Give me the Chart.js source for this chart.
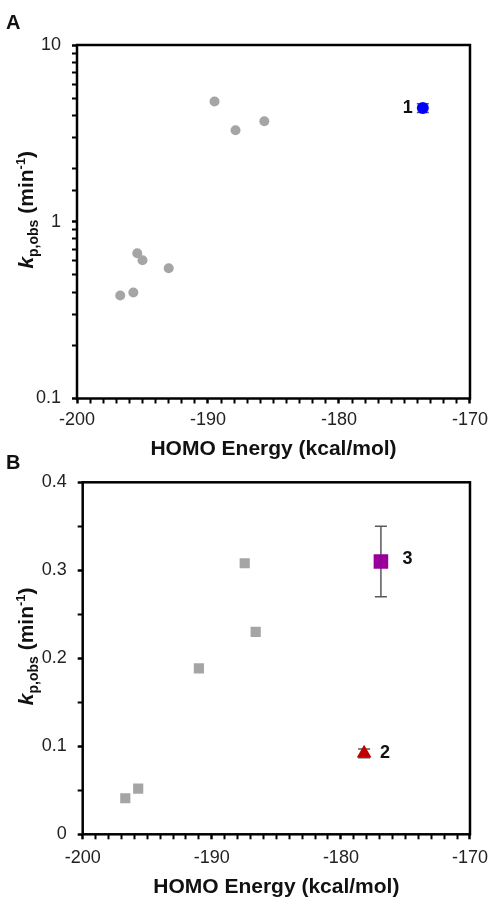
<!DOCTYPE html>
<html>
<head>
<meta charset="utf-8">
<script src="https://cdn.jsdelivr.net/npm/chart.js@4/dist/chart.umd.min.js"></script>
<style>
  body{margin:0;background:#fff;}
  #wrap{position:relative;width:491px;height:899px;}
  canvas{position:absolute;left:0;}
</style>
</head>
<body>
<div id="wrap">
  <canvas id="chartA" width="491" height="470" style="top:0"></canvas>
  <canvas id="chartB" width="491" height="459" style="top:440px"></canvas>
</div>
<script>
// ==========================
// DATA
// ==========================
// panel A (log scale)
const energyA = [-196.7, -195.7, -195.4, -195.0, -193.0, -189.5, -187.9, -185.7];
const kobsA   = [0.383, 0.398, 0.664, 0.606, 0.546, 4.79, 3.29, 3.70];
const energy1 = [-173.6];
const kobs1   = [4.40];
const err1    = [0.25];

// panel B (linear)
const energyB = [-196.7, -195.7, -191.0, -187.45, -186.6];
const kobsB   = [0.041, 0.052, 0.1885, 0.308, 0.230];
const energy2 = [-178.2];
const kobs2   = [0.092];
const err2    = [0.005];
const energy3 = [-176.9];
const kobs3   = [0.31];
const err3    = [0.04];

const xMin = -200, xMax = -170;
const yMinA = 0.1, yMaxA = 10;
const yMinB = 0, yMaxB = 0.4;

const FONT = "'Liberation Sans', Arial, sans-serif";

function pts(xs, ys){
  return xs.map((x,i)=>({x:x, y:ys[i]}));
}

// ==========================
// PLUGIN: frame, error bars, labels, titles
// ==========================
const panelPlugin = {
  id:"panel",
  beforeDatasetsDraw(chart){
    const ctx = chart.ctx, ys = chart.scales.y;
    chart.data.datasets.forEach((ds,d)=>{
      if(!ds.errors) return;
      const meta = chart.getDatasetMeta(d);
      ds.data.forEach((p,i)=>{
        const e = ds.errors[i];
        const x = meta.data[i].x;
        const t = ys.getPixelForValue(p.y + e);
        const b = ys.getPixelForValue(p.y - e);
        ctx.save();
        ctx.strokeStyle = "#595959";
        ctx.lineWidth = 1.5;
        ctx.beginPath();
        ctx.moveTo(x,t); ctx.lineTo(x,b);
        ctx.moveTo(x-6,t); ctx.lineTo(x+6,t);
        ctx.moveTo(x-6,b); ctx.lineTo(x+6,b);
        ctx.stroke();
        ctx.restore();
      });
    });
  },
  afterDraw(chart, args, opts){
    const ctx = chart.ctx, a = chart.chartArea;
    ctx.save();
    // plot frame
    ctx.strokeStyle = "#000";
    ctx.lineWidth = 2.5;
    ctx.strokeRect(a.left, a.top, a.right-a.left, a.bottom-a.top);

    // point tags
    ctx.fillStyle = "#111";
    ctx.font = "bold 18px " + FONT;
    ctx.textAlign = "center";
    ctx.textBaseline = "middle";
    chart.data.datasets.forEach((ds,d)=>{
      if(!ds.tag) return;
      const el = chart.getDatasetMeta(d).data[0];
      ctx.fillText(ds.tag, el.x + ds.tagDx, el.y + ds.tagDy);
    });

    // panel letter
    ctx.font = "bold 20px " + FONT;
    ctx.textAlign = "left";
    ctx.fillText(opts.letter, opts.letterX, opts.letterY);

    // x title
    ctx.font = "bold 21px " + FONT;
    ctx.textAlign = "center";
    ctx.fillText("HOMO Energy (kcal/mol)", (a.left+a.right)/2, a.bottom + opts.xTitleDy);

    // y title with sub/superscript
    const cy = (a.top+a.bottom)/2 + opts.yTitleDy;
    const parts = [
      {t:"k", f:"italic bold 21px "+FONT, dy:0},
      {t:"p,obs", f:"bold 14px "+FONT, dy:5},
      {t:" (min", f:"bold 21px "+FONT, dy:0},
      {t:"-1", f:"bold 13px "+FONT, dy:-8},
      {t:")", f:"bold 21px "+FONT, dy:0}
    ];
    let total = 0;
    parts.forEach(p=>{ ctx.font = p.f; p.w = ctx.measureText(p.t).width; total += p.w; });
    ctx.translate(opts.yTitleX, cy);
    ctx.rotate(-Math.PI/2);
    ctx.textAlign = "left";
    ctx.textBaseline = "alphabetic";
    let cx = -total/2;
    parts.forEach(p=>{
      ctx.font = p.f;
      ctx.fillText(p.t, cx, 7.5 + p.dy);
      cx += p.w;
    });
    ctx.restore();
  }
};

// ==========================
// SCALES
// ==========================
function xScale(h, lh){
  return {
    type:"linear", min:xMin, max:xMax,
    ticks:{
      stepSize:1, autoSkip:false, maxRotation:0, minRotation:0,
      color:"#222", padding:3, font:{family:FONT, size:18, lineHeight:lh},
      callback:v=> v%10===0 ? String(v) : ""
    },
    grid:{
      drawOnChartArea:false, drawTicks:true, tickLength:5, tickColor:"#000",
      tickWidth:c=> (c.tick && c.tick.value%10===0) ? 2.5 : 2
    },
    border:{display:false},
    afterFit:s=>{ s.height = h; }
  };
}

function isDecade(v){
  const l = Math.log10(v);
  return Math.abs(l - Math.round(l)) < 1e-9;
}

const yScaleA = {
  type:"logarithmic", min:yMinA, max:yMaxA,
  ticks:{
    autoSkip:false, color:"#222", padding:11, font:{family:FONT, size:18},
    callback:v=> isDecade(v) ? String(+v.toPrecision(3)) : ""
  },
  grid:{
    drawOnChartArea:false, drawTicks:true, tickLength:5, tickColor:"#000",
    tickWidth:c=> (c.tick && isDecade(c.tick.value)) ? 2.5 : 2
  },
  border:{display:false},
  afterFit:s=>{ s.width = 77; }
};

const yScaleB = {
  type:"linear", min:yMinB, max:yMaxB,
  ticks:{
    stepSize:0.05, autoSkip:false, color:"#222", padding:11, font:{family:FONT, size:18},
    callback:v=> Math.round(v*100)%10===0 ? (v===0 ? "0" : v.toFixed(1)) : ""
  },
  grid:{
    drawOnChartArea:false, drawTicks:true, tickLength:5, tickColor:"#000",
    tickWidth:c=> (c.tick && Math.round(c.tick.value*100)%10===0) ? 2.5 : 2
  },
  border:{display:false},
  afterFit:s=>{ s.width = 82.7; }
};

// ==========================
// CHART A
// ==========================
new Chart(document.getElementById("chartA"),{
  type:"scatter",
  data:{datasets:[
    {data:pts(energyA,kobsA), pointStyle:"circle", pointRadius:5,
     backgroundColor:"#A5A5A5", borderWidth:0},
    {data:pts(energy1,kobs1), errors:err1, pointStyle:"circle", pointRadius:6,
     backgroundColor:"#0000FF", borderWidth:0, tag:"1", tagDx:-15, tagDy:0}
  ]},
  options:{
    responsive:false, animation:false,
    layout:{padding:{left:0, top:45, right:21, bottom:0}},
    scales:{x:xScale(71.5, 1.5), y:yScaleA},
    plugins:{
      legend:{display:false}, tooltip:{enabled:false},
      panel:{letter:"A", letterX:6, letterY:23, xTitleDy:51, yTitleX:25, yTitleDy:-12}
    }
  },
  plugins:[panelPlugin]
});

// ==========================
// CHART B
// ==========================
new Chart(document.getElementById("chartB"),{
  type:"scatter",
  data:{datasets:[
    {data:pts(energyB,kobsB), pointStyle:"rect", pointRadius:7.2,
     backgroundColor:"#A5A5A5", borderWidth:0},
    {data:pts(energy2,kobs2), errors:err2, pointStyle:"triangle", pointRadius:8.5,
     backgroundColor:"#C00000", borderWidth:0, tag:"2", tagDx:21, tagDy:0},
    {data:pts(energy3,kobs3), errors:err3, pointStyle:"rect", pointRadius:10.3,
     backgroundColor:"#990099", borderWidth:0, tag:"3", tagDx:26.5, tagDy:-2}
  ]},
  options:{
    responsive:false, animation:false,
    layout:{padding:{left:0, top:42.3, right:21, bottom:0}},
    scales:{x:xScale(64.7, 1.8), y:yScaleB},
    plugins:{
      legend:{display:false}, tooltip:{enabled:false},
      panel:{letter:"B", letterX:6, letterY:23, xTitleDy:53, yTitleX:25, yTitleDy:-12}
    }
  },
  plugins:[panelPlugin]
});
</script>
</body>
</html>
